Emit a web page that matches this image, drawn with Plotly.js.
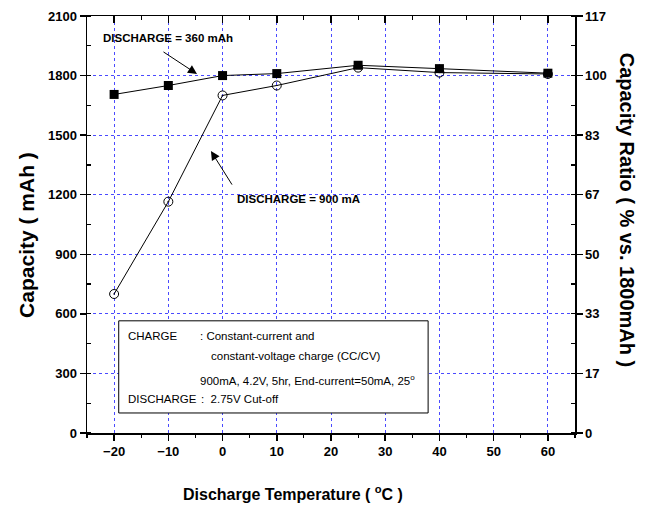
<!DOCTYPE html>
<html>
<head>
<meta charset="utf-8">
<script src="https://cdn.plot.ly/plotly-3.0.1.min.js"></script>
<style>html,body{margin:0;padding:0;background:#fff;}#chart{width:648px;height:506px;}</style>
</head>
<body>
<div id="chart"></div>
<script>
// ---- data ----
var temps = [-20, -10, 0, 10, 25, 40, 60];
var cap360 = [1705, 1750, 1800, 1810, 1852, 1835, 1812];
var cap900 = [700, 1165, 1700, 1750, 1840, 1815, 1808];
var capTicks = [0, 300, 600, 900, 1200, 1500, 1800, 2100];
var ratioLabels = ['0', '17', '33', '50', '67', '83', '100', '117'];
var tempTicks = [-20, -10, 0, 10, 20, 30, 40, 50, 60];

var FONT = 'Liberation Sans, Arial, sans-serif';
var GRID = '#4a4aff';

var traces = [
  {x: temps, y: cap360, type: 'scatter', mode: 'lines+markers',
   line: {color: '#000', width: 1},
   marker: {symbol: 'square', size: 9, color: '#000'},
   showlegend: false, hoverinfo: 'skip'},
  {x: temps, y: cap900, type: 'scatter', mode: 'lines+markers',
   line: {color: '#000', width: 1},
   marker: {symbol: 'circle-open-dot', size: 9, color: '#000', line: {width: 1, color: '#000'}},
   showlegend: false, hoverinfo: 'skip'},
  {x: [], y: [], xaxis: 'x2', yaxis: 'y2', type: 'scatter', mode: 'markers', showlegend: false, hoverinfo: 'skip'}
];

var tickFont = {family: FONT, size: 13, color: '#000', weight: 'bold'};

function note(x, y, text, opts) {
  var a = {xref: 'paper', yref: 'paper', x: x, y: y, text: text, showarrow: false,
           xanchor: 'center', yanchor: 'middle'};
  for (var k in opts) a[k] = opts[k];
  return a;
}
var boxFont = {family: FONT, size: 11.5, color: '#000'};
var labFont = {family: FONT, size: 11.5, color: '#000', weight: 'bold'};

var layout = {
  width: 648, height: 506,
  margin: {l: 87, r: 73, t: 16, b: 73},
  paper_bgcolor: '#fff', plot_bgcolor: '#fff',
  showlegend: false,
  xaxis: {
    range: [-25, 65], tickmode: 'array', tickvals: tempTicks,
    ticks: 'outside', ticklen: 6, tickwidth: 1.5, tickcolor: '#000',
    showline: true, linewidth: 1.5, linecolor: '#000',
    showgrid: true, gridcolor: GRID, griddash: 'dot', gridwidth: 1,
    zeroline: false, tickfont: tickFont,
    minor: {tickmode: 'linear', tick0: -25, dtick: 5, ticks: 'outside', ticklen: 3, tickwidth: 1.2, tickcolor: '#000', showgrid: false}
  },
  xaxis2: {
    overlaying: 'x', side: 'top', anchor: 'y2',
    range: [-25, 65], tickmode: 'array', tickvals: tempTicks,
    ticks: 'inside', ticklen: 7, tickwidth: 1.5, tickcolor: '#000',
    showline: true, linewidth: 1.5, linecolor: '#000',
    showgrid: false, zeroline: false, showticklabels: false,
    minor: {tickmode: 'linear', tick0: -25, dtick: 5, ticks: 'inside', ticklen: 4, tickwidth: 1.2, tickcolor: '#000', showgrid: false}
  },
  yaxis: {
    range: [0, 2100], tickmode: 'array', tickvals: capTicks,
    ticks: 'outside', ticklen: 6, tickwidth: 1.5, tickcolor: '#000',
    showline: true, linewidth: 1.5, linecolor: '#000',
    showgrid: true, gridcolor: GRID, griddash: 'dot', gridwidth: 1,
    zeroline: false, tickfont: tickFont,
    minor: {tickmode: 'linear', tick0: 0, dtick: 150, ticks: 'inside', ticklen: 4, tickwidth: 1.2, tickcolor: '#000', showgrid: false}
  },
  yaxis2: {
    overlaying: 'y', side: 'right', anchor: 'x2',
    range: [0, 2100], tickmode: 'array', tickvals: capTicks, ticktext: ratioLabels,
    ticks: 'outside', ticklen: 6, tickwidth: 1.5, tickcolor: '#000',
    showline: true, linewidth: 1.5, linecolor: '#000',
    showgrid: false, zeroline: false, tickfont: tickFont,
    minor: {tickmode: 'linear', tick0: 0, dtick: 150, ticks: 'inside', ticklen: 4, tickwidth: 1.2, tickcolor: '#000', showgrid: false}
  },
  shapes: [
    {type: 'rect', xref: 'paper', yref: 'paper', x0: 0.065, x1: 0.699, y0: 0.048, y1: 0.269,
     line: {color: '#000', width: 1}, fillcolor: '#fff', layer: 'above'}
  ],
  annotations: [
    // axis titles
    note(0.422, -0.144, 'Discharge Temperature ( <sup>o</sup>C )', {font: {family: FONT, size: 16, color: '#000', weight: 'bold'}}),
    note(-0.123, 0.475, 'Capacity ( mAh )', {textangle: -90, font: {family: FONT, size: 21, color: '#000', weight: 'bold'}}),
    note(1.107, 0.535, 'Capacity Ratio ( % vs. 1800mAh )', {textangle: 90, font: {family: FONT, size: 20, color: '#000', weight: 'bold'}}),
    // series labels
    note(0.166, 0.947, 'DISCHARGE = 360 mAh', {font: labFont}),
    {xref: 'paper', yref: 'paper', x: 0.2254, y: 0.861, ax: -35, ay: -23, text: '',
     showarrow: true, arrowhead: 2, arrowsize: 1.8, arrowwidth: 1, arrowcolor: '#000'},
    note(0.434, 0.561, 'DISCHARGE = 900 mA', {font: labFont}),
    {xref: 'paper', yref: 'paper', x: 0.254, y: 0.676, ax: 22, ay: 35, text: '',
     showarrow: true, arrowhead: 2, arrowsize: 1.8, arrowwidth: 1, arrowcolor: '#000'},
    // box text
    note(0.079, 0.2333, 'CHARGE', {xanchor: 'left', font: boxFont}),
    note(0.227, 0.2333, ': Constant-current and', {xanchor: 'left', font: boxFont}),
    note(0.250, 0.1854, 'constant-voltage charge (CC/CV)', {xanchor: 'left', font: boxFont}),
    note(0.227, 0.1271, '900mA, 4.2V, 5hr, End-current=50mA, 25<sup>o</sup>', {xanchor: 'left', font: boxFont}),
    note(0.079, 0.0808, 'DISCHARGE', {xanchor: 'left', font: boxFont}),
    note(0.229, 0.0808, ':  2.75V Cut-off', {xanchor: 'left', font: boxFont})
  ]
};

Plotly.newPlot('chart', traces, layout, {staticPlot: true, displayModeBar: false});
</script>
</body>
</html>
